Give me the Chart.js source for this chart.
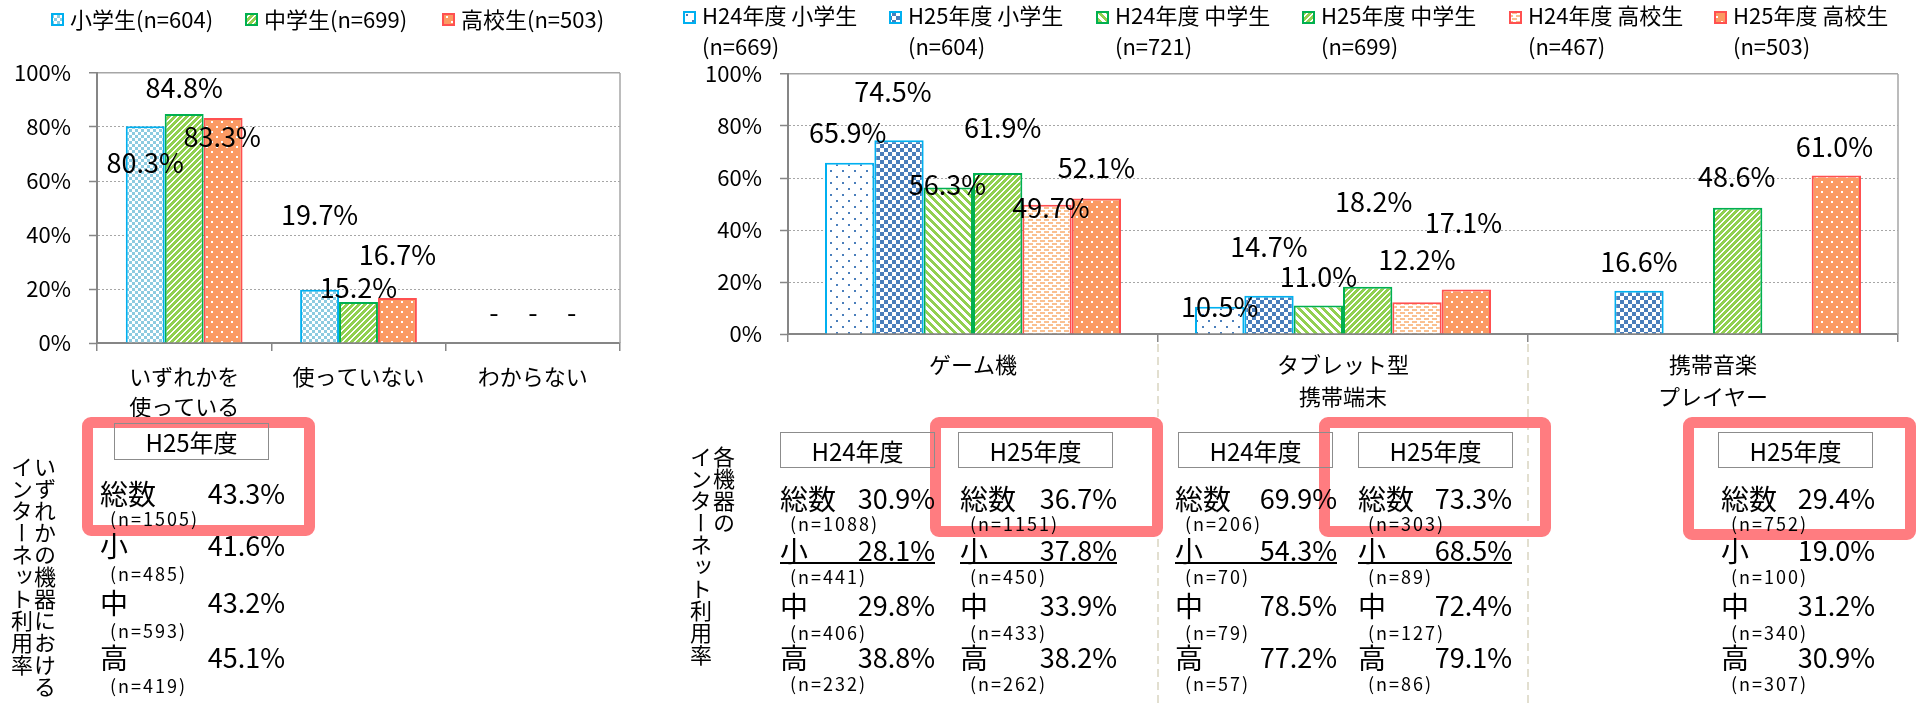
<!DOCTYPE html>
<html lang="ja">
<head>
<meta charset="utf-8">
<script src="https://cdn.jsdelivr.net/npm/chart.js@4.4.1/dist/chart.umd.min.js"></script>
<style>
html,body{margin:0;padding:0;background:#fff;}
body{width:1923px;height:703px;position:relative;overflow:hidden;font-family:"Noto Sans CJK JP","Noto Sans",sans-serif;color:#000;}
canvas{position:absolute;left:0;top:0;}
.abs{position:absolute;white-space:nowrap;}
.vtitle{writing-mode:vertical-rl;font-size:22px;line-height:23px;}
.hdr{border:1px solid #8c8c8c;font-size:24px;text-align:center;box-sizing:border-box;height:37px;line-height:35px;}
.row{display:flex;justify-content:space-between;font-size:27px;line-height:34px;height:34px;}
.row .lab{font-size:28px;}
.nn{font-size:18px;line-height:20px;letter-spacing:2px;}
.redbox{border:11px solid #ff7c80;border-radius:9px;box-sizing:border-box;}
.ul{height:2px;background:#000;}
</style>
</head>
<body>
<canvas id="useChart" width="1923" height="703"></canvas>
<canvas id="devChart" width="1923" height="703"></canvas>
<div id="notes"></div>
<script>
(function(){
  'use strict';
  const FONT='"Noto Sans CJK JP","Noto Sans",sans-serif';

  /* ── Data: left chart (any device) ── */
  const useCats=[['いずれかを','使っている'],'使っていない','わからない'];
  const useSeries=['小学生(n=604)','中学生(n=699)','高校生(n=503)'];
  const useShou=[80.3,19.7,null];
  const useChu=[84.8,15.2,null];
  const useKou=[83.3,16.7,null];

  /* ── Data: right chart (per device) ── */
  const devCats=['ゲーム機',['タブレット型','携帯端末'],['携帯音楽','プレイヤー']];
  const devSeries=['H24年度 小学生','H25年度 小学生','H24年度 中学生','H25年度 中学生','H24年度 高校生','H25年度 高校生'];
  const devN=['(n=669)','(n=604)','(n=721)','(n=699)','(n=467)','(n=503)'];
  const devH24Shou=[65.9,10.5,null];
  const devH25Shou=[74.5,14.7,16.6];
  const devH24Chu=[56.3,11.0,null];
  const devH25Chu=[61.9,18.2,48.6];
  const devH24Kou=[49.7,12.2,null];
  const devH25Kou=[52.1,17.1,61.0];
  const yTickStep=20;

  /* ── Data: internet use tables ── */
  const rowLabels=['総数','小','中','高'];
  const anyUseRate=[43.3,41.6,43.2,45.1], anyUseN=[1505,485,593,419];
  const gameH24Rate=[30.9,28.1,29.8,38.8], gameH24N=[1088,441,406,232];
  const gameH25Rate=[36.7,37.8,33.9,38.2], gameH25N=[1151,450,433,262];
  const tabH24Rate=[69.9,54.3,78.5,77.2], tabH24N=[206,70,79,57];
  const tabH25Rate=[73.3,68.5,72.4,79.1], tabH25N=[303,89,127,86];
  const musH25Rate=[29.4,19.0,31.2,30.9], musH25N=[752,100,340,307];

  /* ── Label nudges (px from bar top), Excel-style manual placement ── */
  const useNudge=[[[0,37],[0,-75],[0,-30]],[[0,-26],[0,-14],[0,-30]],[[-1,19],[0,-43],[0,-30]]];
  const devNudge=[
    [[-2,-30],[0,0],null],[[-6,-49],[0,-49],[0,-29]],[[-1,-3],[0,-29],null],
    [[5,-45],[6,-85],[-1,-31]],[[4,3],[0,-43],null],[[0,-31],[-3,-67],[-2,-29]]
  ];

  /* ── Fill patterns ── */
  function makePattern(w,h,bg,fg,cells){
    const c=document.createElement('canvas');c.width=w;c.height=h;
    const g=c.getContext('2d');
    g.fillStyle=bg;g.fillRect(0,0,w,h);
    g.fillStyle=fg;
    cells.forEach(r=>g.fillRect(r[0],r[1],r[2],r[3]));
    return g.createPattern(c,'repeat');
  }
  const upCells=[],downCells=[];
  for(let i=0;i<6;i++){upCells.push([i,5-i,1,1],[i,(6-i)%6,1,1]);}
  for(let i=0;i<8;i++)for(let k=0;k<4;k++)downCells.push([i,(i+k)%8,1,1]);
  const P={
    checkLight:makePattern(6,6,'#fff','#8dcbe0',[[0,0,3,3],[3,3,3,3]]),
    checkBlue:makePattern(8,8,'#fff','#4a7ebb',[[0,0,4,4],[4,4,4,4]]),
    diagUp:makePattern(6,6,'#92d050','#fff',upCells),
    diagDown:makePattern(8,8,'#fff','#92d050',downCells),
    dotsOrange:makePattern(10,10,'#fb9a63','#fff',[[1,1,2,2],[6,6,2,2]]),
    dotsBlue:makePattern(12,12,'#fff','#4a7ebb',[[2,2,2,2],[8,8,2,2]]),
    dashPeach:makePattern(8,6,'#fff','#fac090',[[0,0,5,2],[4,3,4,2],[0,3,1,2]])
  };
  const C_SHOU='#00b0f0',C_CHU='#00b050',C_KOU='#ff5050';

  /* ── Plugins ── */
  function barLabels(nudges){
    return {id:'barLabels',afterDatasetsDraw(chart){
      const ctx=chart.ctx,y0=chart.scales.y.getPixelForValue(0);
      ctx.save();ctx.font='27px '+FONT;ctx.fillStyle='#000';ctx.textAlign='center';ctx.textBaseline='middle';
      chart.data.datasets.forEach((ds,i)=>{
        chart.getDatasetMeta(i).data.forEach((el,j)=>{
          const v=ds.data[j],n=nudges[i][j];
          if(!n)return;
          if(v==null)ctx.fillText('-',el.x+n[0],y0+n[1]);
          else ctx.fillText(v.toFixed(1)+'%',el.x+n[0],el.y+n[1]);
        });
      });
      ctx.restore();
    }};
  }
  function legendAt(xs,boxY,texts,lineYs){
    return {id:'legendAt',afterDraw(chart){
      const ctx=chart.ctx;
      ctx.save();ctx.font='22px '+FONT;ctx.textBaseline='middle';ctx.textAlign='left';
      chart.data.datasets.forEach((ds,i)=>{
        const x=xs[i];
        ctx.fillStyle=ds.backgroundColor;ctx.fillRect(x,boxY,13,13);
        ctx.strokeStyle=ds.borderColor;ctx.lineWidth=2;ctx.strokeRect(x+1,boxY+1,11,11);
        ctx.fillStyle='#000';
        texts[i].forEach((t,k)=>ctx.fillText(t,x+19,lineYs[k]));
      });
      ctx.restore();
    }};
  }
  const frame={id:'frame',afterDraw(chart){
    const a=chart.chartArea,ctx=chart.ctx;
    ctx.save();ctx.strokeStyle='#a6a6a6';ctx.lineWidth=1.5;
    ctx.beginPath();ctx.moveTo(a.right,a.top);ctx.lineTo(a.right,a.bottom);ctx.stroke();ctx.restore();
  }};
  const separators={id:'separators',afterDraw(chart){
    const x=chart.scales.x,ctx=chart.ctx,b=chart.chartArea.bottom;
    ctx.save();ctx.strokeStyle='#e2dfd0';ctx.lineWidth=2;ctx.setLineDash([8,5]);
    for(let i=1;i<chart.data.labels.length;i++){
      const px=Math.round((x.getPixelForValue(i-1)+x.getPixelForValue(i))/2);
      ctx.beginPath();ctx.moveTo(px,b+10);ctx.lineTo(px,703);ctx.stroke();
    }
    ctx.restore();
  }};

  /* ── Chart builder ── */
  function makeChart(id,cats,sets,area,catPct,xPad,lineH,plugins){
    return new Chart(document.getElementById(id),{
      type:'bar',
      data:{labels:cats,datasets:sets},
      options:{
        responsive:false,animation:false,devicePixelRatio:1,
        layout:{padding:{left:0,top:area.top,right:1923-area.right,bottom:0}},
        plugins:{legend:{display:false},tooltip:{enabled:false}},
        datasets:{bar:{categoryPercentage:catPct,barPercentage:1,borderWidth:2}},
        scales:{
          x:{
            grid:{drawOnChartArea:false,tickLength:8,color:'#868686',lineWidth:1.5},
            border:{color:'#868686',width:2},
            ticks:{color:'#000',padding:xPad,autoSkip:false,maxRotation:0,font:{family:FONT,size:22,lineHeight:lineH+'px'}},
            afterFit:s=>{s.height=703-area.bottom;}
          },
          y:{
            min:0,max:100,
            ticks:{stepSize:yTickStep,padding:18,color:'#000',font:{family:FONT,size:22},callback:v=>v+'%'},
            grid:{tickLength:8,color:'#a6a6a6',lineWidth:c=>c.tick&&c.tick.value===100?1.5:1,tickColor:'#868686',tickWidth:1.5},
            border:{color:'#868686',width:2,dash:c=>c.tick&&c.tick.value===100?[]:[2,2]},
            afterFit:s=>{s.width=area.left;}
          }
        }
      },
      plugins:plugins
    });
  }

  /* ── Left chart ── */
  makeChart('useChart',useCats,[
    {label:useSeries[0],data:useShou,backgroundColor:P.checkLight,borderColor:C_SHOU},
    {label:useSeries[1],data:useChu,backgroundColor:P.diagUp,borderColor:C_CHU},
    {label:useSeries[2],data:useKou,backgroundColor:P.dotsOrange,borderColor:C_KOU}
  ],{left:97,right:620,top:73,bottom:343},0.67,11,30,
  [frame,barLabels(useNudge),legendAt([51,245,442],13,useSeries.map(s=>[s]),[20])]);

  /* ── Right chart ── */
  makeChart('devChart',devCats,[
    {label:devSeries[0],data:devH24Shou,backgroundColor:P.dotsBlue,borderColor:C_SHOU},
    {label:devSeries[1],data:devH25Shou,backgroundColor:P.checkBlue,borderColor:C_SHOU},
    {label:devSeries[2],data:devH24Chu,backgroundColor:P.diagDown,borderColor:C_CHU},
    {label:devSeries[3],data:devH25Chu,backgroundColor:P.diagUp,borderColor:C_CHU},
    {label:devSeries[4],data:devH24Kou,backgroundColor:P.dashPeach,borderColor:C_KOU},
    {label:devSeries[5],data:devH25Kou,backgroundColor:P.dotsOrange,borderColor:C_KOU}
  ],{left:788,right:1898,top:74,bottom:334},0.8,7,32,
  [frame,separators,barLabels(devNudge),legendAt([683,889,1096,1302,1509,1714],11,devSeries.map((s,i)=>[s,devN[i]]),[16,47])]);

  /* ── Tables under the charts ── */
  const notes=document.getElementById('notes');
  function put(cls,html,css){
    const d=document.createElement('div');d.className='abs '+cls;d.innerHTML=html;
    Object.keys(css).forEach(k=>d.style[k]=typeof css[k]==='number'?css[k]+'px':css[k]);
    notes.appendChild(d);return d;
  }
  [[82,417,233,119],[930,417,233,120],[1319,417,232,120],[1683,417,233,123]]
    .forEach(r=>put('redbox','',{left:r[0],top:r[1],width:r[2],height:r[3]}));

  put('vtitle','いずれかの機器における<br>インターネット利用率',{left:10,top:456});
  put('vtitle','各機器の<br>インターネット利用率',{left:689,top:446});

  const RY=[498,550,605,657],NY=[523,576,632,683];
  const tables=[
    {rate:anyUseRate,n:anyUseN,head:'H25年度',x:100,w:185,hx:114,hy:423,ry:[493,545,602,657],ny:[518,573,630,685],ul:false},
    {rate:gameH24Rate,n:gameH24N,head:'H24年度',x:780,w:155,hx:780,hy:432,ry:RY,ny:NY,ul:true},
    {rate:gameH25Rate,n:gameH25N,head:'H25年度',x:960,w:157,hx:958,hy:432,ry:RY,ny:NY,ul:true},
    {rate:tabH24Rate,n:tabH24N,head:'H24年度',x:1175,w:162,hx:1178,hy:432,ry:RY,ny:NY,ul:true},
    {rate:tabH25Rate,n:tabH25N,head:'H25年度',x:1358,w:154,hx:1358,hy:432,ry:RY,ny:NY,ul:true},
    {rate:musH25Rate,n:musH25N,head:'H25年度',x:1721,w:154,hx:1718,hy:432,ry:RY,ny:NY,ul:false}
  ];
  tables.forEach(t=>{
    put('hdr',t.head,{left:t.hx,top:t.hy,width:155,height:t.hy===423?37:36});
    rowLabels.forEach((lab,i)=>{
      put('row','<span class="lab">'+lab+'</span><span>'+t.rate[i].toFixed(1)+'%</span>',{left:t.x,top:t.ry[i]-17,width:t.w});
      put('nn','(n='+t.n[i]+')',{left:t.x+10,top:t.ny[i]-10});
    });
    if(t.ul)put('ul','',{left:t.x,top:t.ry[1]+12,width:t.w});
  });
})();
</script>
</body>
</html>
